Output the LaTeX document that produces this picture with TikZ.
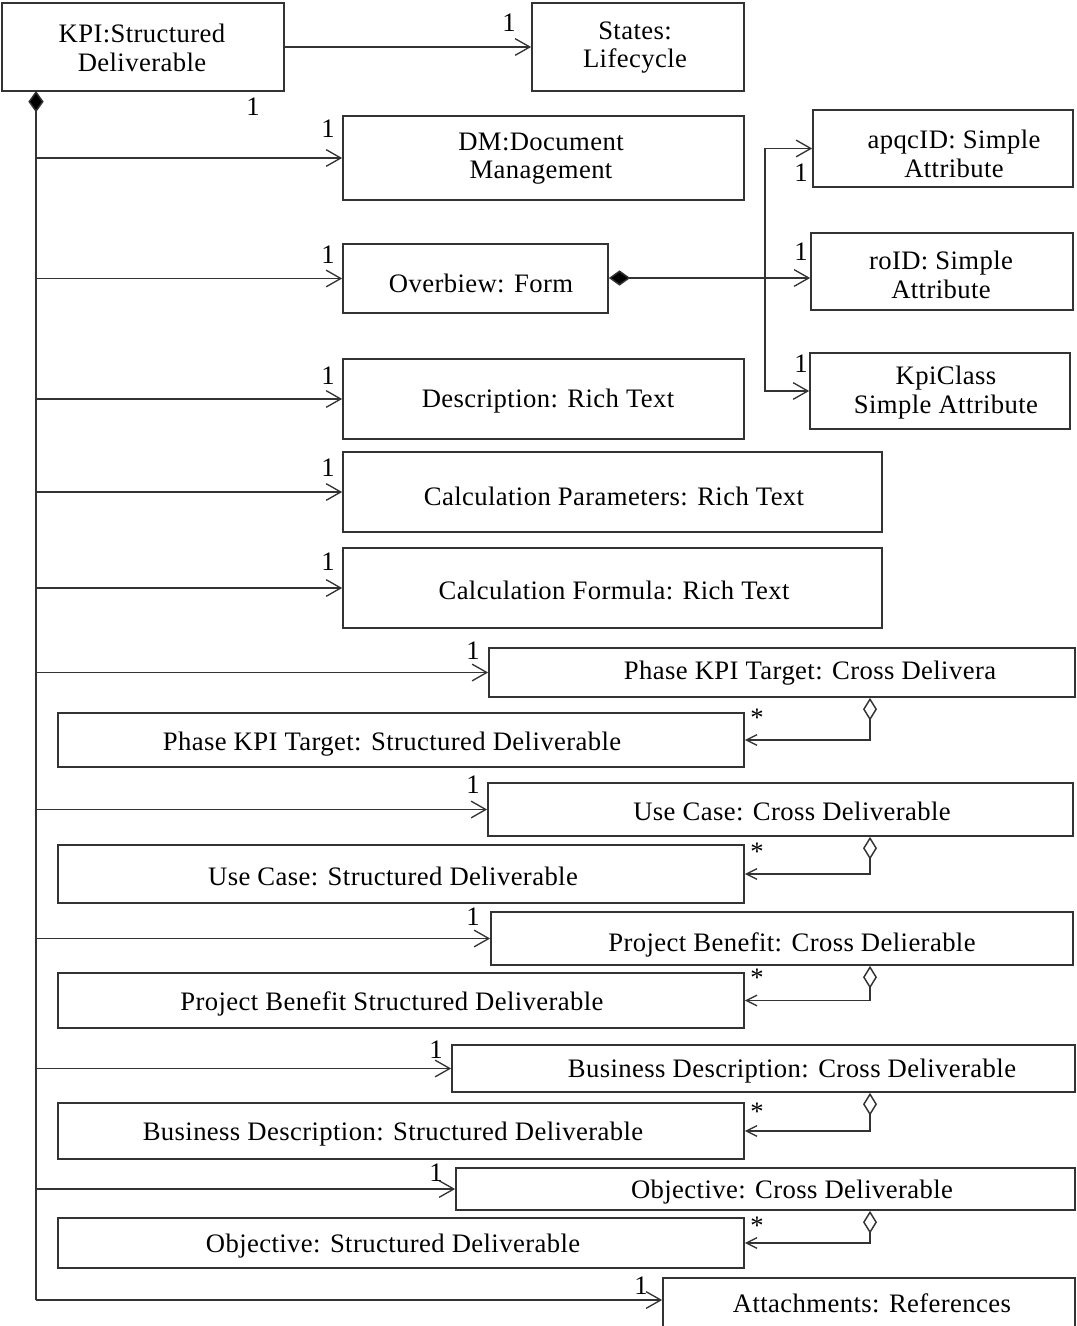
\documentclass[tikz,border=0pt]{standalone}
\usepackage{fontspec}
\setmainfont{Liberation Serif}[LetterSpace=1.5]
\usetikzlibrary{arrows.meta}
\tikzset{
  box/.style={draw=black!80,line width=1.3pt,inner sep=0pt,fill=white},
  txt/.style={inner sep=0pt,align=center,yshift=-2pt,font=\fontsize{20}{21.5}\selectfont},
  mult/.style={inner sep=0pt,font=\fontsize{20}{21.5}\selectfont},
  conn/.style={draw=black!80,line width=1.1pt},
  barb/.tip={Straight Barb[length=11pt,width=12.5pt,line width=1pt]},
  sbarb/.tip={Straight Barb[length=8pt,width=8pt,line width=1pt]},
  fdia/.tip={Diamond[length=16pt,width=11.5pt,fill=black]},
  odia/.tip={Diamond[open,length=17pt,width=10.5pt,fill=white]},
  arr/.style={conn,-barb},
}
\newcommand\ubox[5]{%
  \pgfmathsetmacro\bw{(#4-#2)*0.75}\pgfmathsetmacro\bh{(#5-#3)*0.75}%
  \node[box,minimum width=\bw pt,minimum height=\bh pt] (#1) at ({(#2+#4)/2},{(#3+#5)/2}) {};}
\begin{document}
\begin{tikzpicture}[x=0.75pt,y=-0.75pt]
\useasboundingbox (0,0) rectangle (1076,1326);
% boxes
\ubox{main}{2}{3}{284}{91}
\ubox{states}{532}{3}{744}{91}
\ubox{dm}{343}{116}{744}{200}
\ubox{form}{343}{244}{608}{313}
\ubox{desc}{343}{359}{744}{439}
\ubox{cpar}{343}{452}{882}{532}
\ubox{cfor}{343}{548}{882}{628}
\ubox{apqc}{813}{110}{1073}{187}
\ubox{roid}{811}{233}{1073}{310}
\ubox{kpic}{810}{353}{1070}{429}
\ubox{pkc}{489}{648}{1075}{697}
\ubox{pks}{58}{713}{744}{767}
\ubox{ucc}{488}{783}{1073}{836}
\ubox{ucs}{58}{845}{744}{903}
\ubox{pbc}{491}{912}{1073}{965}
\ubox{pbs}{58}{973}{744}{1028}
\ubox{bdc}{452}{1045}{1075}{1092}
\ubox{bds}{58}{1103}{744}{1159}
\ubox{obc}{456}{1168}{1075}{1210}
\ubox{obs}{58}{1218}{744}{1268}
\ubox{att}{663}{1278}{1075}{1330}
\draw[black!80,line width=1.3pt] ([xshift=0.8pt]main.north west) -- ([xshift=0.8pt]main.south west);
% texts
\node[txt] (maint) at (142,45) {KPI:Structured\\Deliverable};
\node[txt] (statest) at (635,45) {States:\\Lifecycle};
\node[txt] (dmt) at (541,156) {DM:Document\\Management};
\node[txt] (formt) at (481,281) {Overbiew: Form};
\node[txt] (desct) at (548,398) {Description: Rich Text};
\node[txt] (cpart) at (614,494) {Calculation Parameters: Rich Text};
\node[txt] (cfort) at (614,588) {Calculation Formula: Rich Text};
\node[txt] (apqct) at (954,151) {apqcID: Simple\\Attribute};
\node[txt] (roidt) at (941,272) {roID: Simple\\Attribute};
\node[txt] (kpict) at (946,390) {KpiClass\\Simple Attribute};
\node[txt] (pkct) at (810,670) {Phase KPI Target: Cross Delivera};
\node[txt] (pkst) at (392,741) {Phase KPI Target: Structured Deliverable};
\node[txt] (ucct) at (792,809) {Use Case: Cross Deliverable};
\node[txt] (ucst) at (393,874) {Use Case: Structured Deliverable};
\node[txt] (pbct) at (792,942) {Project Benefit: Cross Delierable};
\node[txt] (pbst) at (392,1001) {Project Benefit Structured Deliverable};
\node[txt] (bdct) at (792,1068) {Business Description: Cross Deliverable};
\node[txt] (bdst) at (393,1131) {Business Description: Structured Deliverable};
\node[txt] (obct) at (792,1189) {Objective: Cross Deliverable};
\node[txt] (obst) at (393,1243) {Objective: Structured Deliverable};
\node[txt] (attt) at (872,1301) {Attachments: References};
% connectors from main
\draw[arr] (main.east) -- (states.west);
\coordinate (trunk) at (36,91);
\coordinate (tend) at (36,1300);
\draw[conn,fdia-] (trunk) -- (tend);
\draw[arr] (tend) -- (tend -| att.west);
\foreach \n in {dm,form,desc,cpar,cfor,pkc,ucc,pbc,bdc,obc}
  \draw[arr] (trunk |- \n.west) -- (\n.west);
% form to attributes
\coordinate (junc) at (765,278);
\draw[conn,fdia-] (form.east |- junc) -- (junc);
\draw[arr] (junc) -- (junc -| roid.west);
\draw[arr] (junc) |- (apqc.west);
\draw[arr] (junc) |- (kpic.west);
% aggregation back arrows
\foreach \c/\s in {pkc/pks,ucc/ucs,pbc/pbs,bdc/bds,obc/obs}
  \draw[conn,odia-sbarb] (\c.south -| 870,0) |- (\s.east);
% multiplicities
\node[mult] (m1) at (509,23) {1};
\node[mult] (m2) at (253,107) {1};
\node[mult] (m3) at (328,129) {1};
\node[mult] (m4) at (328,255) {1};
\node[mult] (m5) at (328,376) {1};
\node[mult] (m6) at (328,468) {1};
\node[mult] (m7) at (328,562) {1};
\node[mult] (m8) at (473,651) {1};
\node[mult] (m9) at (473,785) {1};
\node[mult] (m10) at (473,917) {1};
\node[mult] (m11) at (436,1050) {1};
\node[mult] (m12) at (436,1173) {1};
\node[mult] (m13) at (641,1286) {1};
\node[mult] (m14) at (801,173) {1};
\node[mult] (m15) at (801,252) {1};
\node[mult] (m16) at (801,364) {1};
\foreach \y [count=\i] in {718,852,978,1112,1226}
  \node[mult] (st\i) at (757,\y) {*};
\end{tikzpicture}
\end{document}
